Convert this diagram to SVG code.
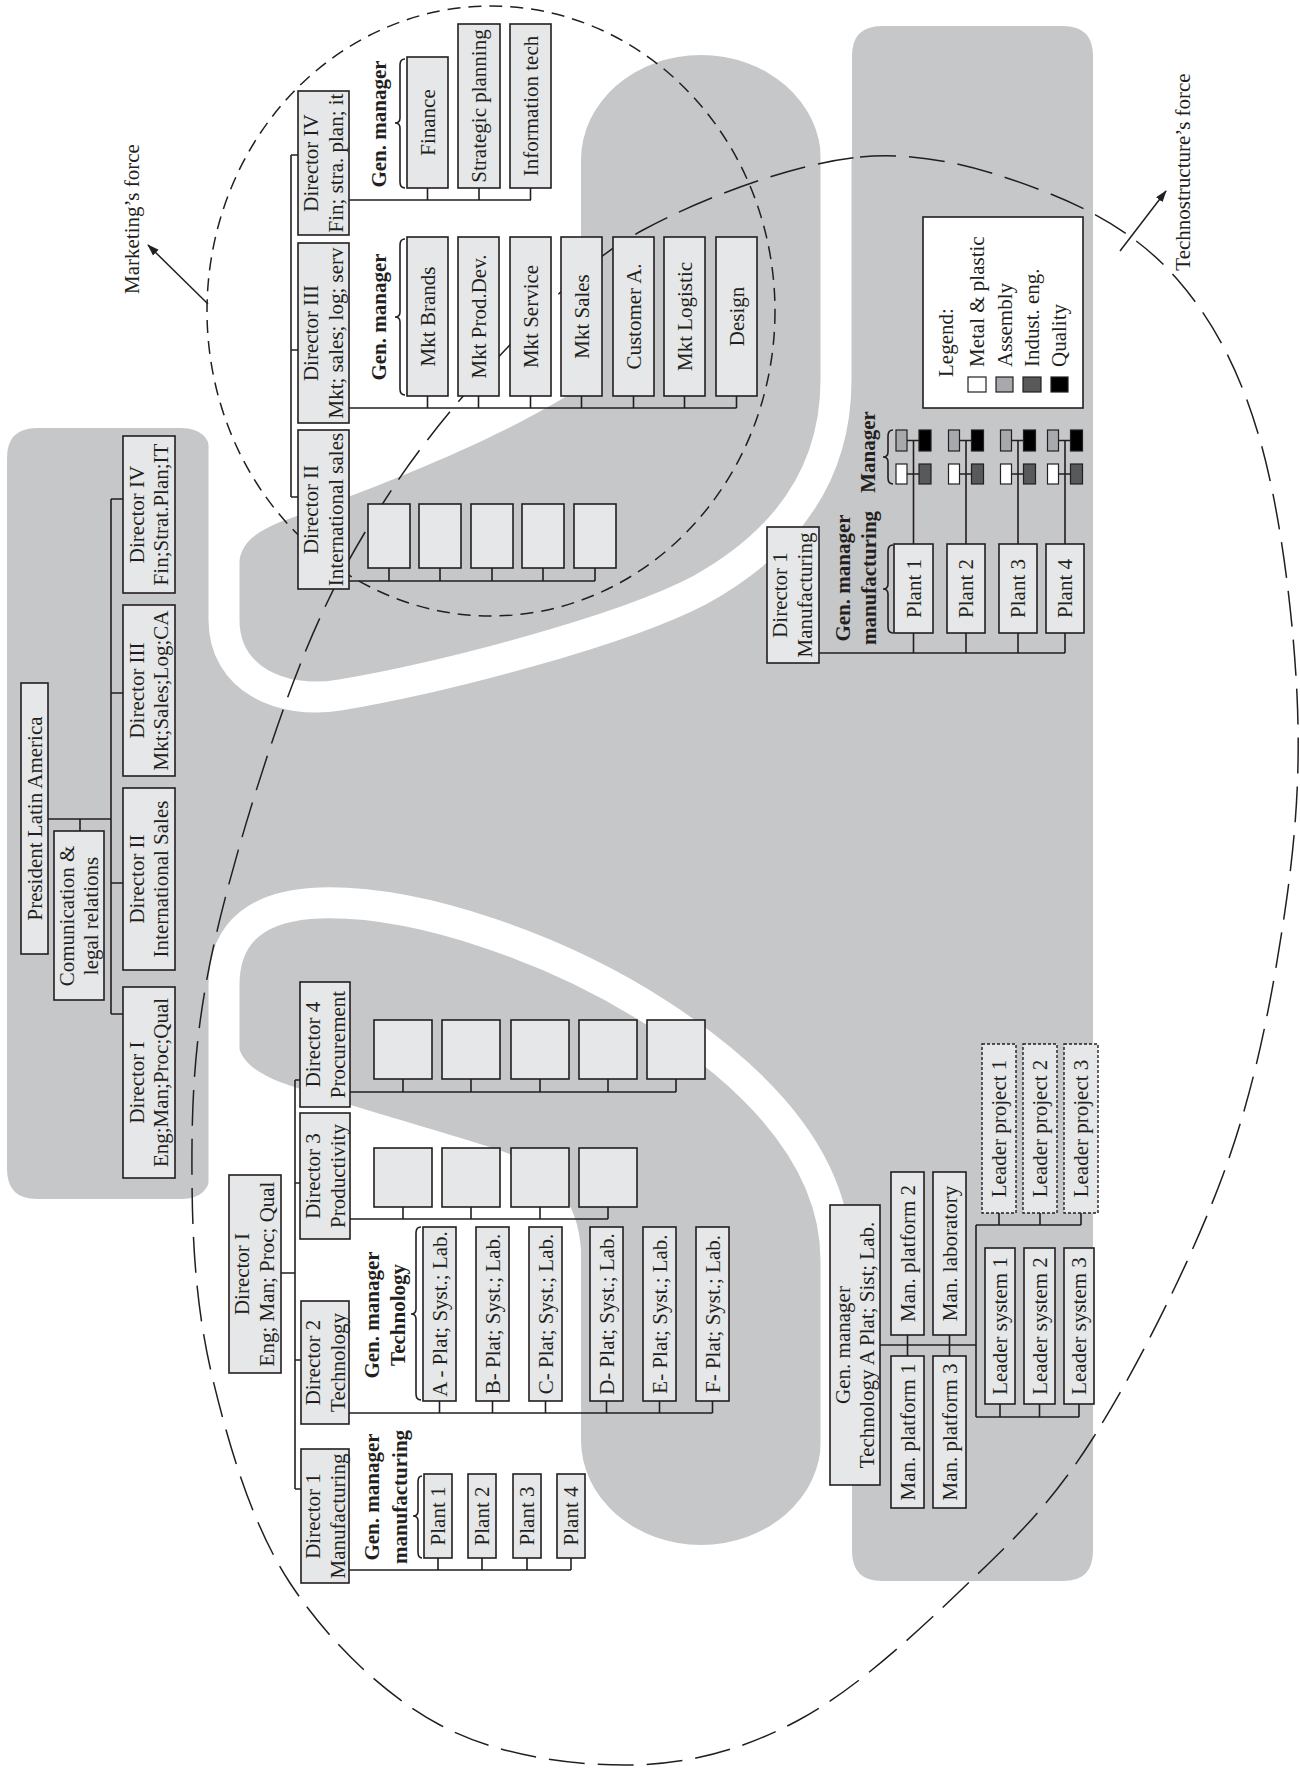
<svg xmlns="http://www.w3.org/2000/svg" width="1300" height="1771" viewBox="0 0 1300 1771">
<defs>
<style>
.bg{fill:#c6c7c9}
.band{fill:none;stroke:#fff;stroke-width:31}
.bx{fill:#e6e7e8;stroke:#231f20;stroke-width:1.6}
.dbx{fill:#e6e7e8;stroke:#231f20;stroke-width:1.4;stroke-dasharray:3 2}
.ln{fill:none;stroke:#231f20;stroke-width:1.6}
.t{font-family:"Liberation Serif","Times New Roman",serif;font-size:21px;fill:#231f20;text-anchor:middle;dominant-baseline:central}
.b{font-weight:bold}
.s{text-anchor:start}
.el1{fill:none;stroke:#231f20;stroke-width:1.5;stroke-dasharray:13 8}
.el2{fill:none;stroke:#231f20;stroke-width:1.5;stroke-dasharray:36 13}
.arr{fill:none;stroke:#231f20;stroke-width:1.5;marker-end:url(#ah)}
</style>
<marker id="ah" viewBox="0 0 12 10" refX="11" refY="5" markerWidth="12" markerHeight="10" markerUnits="userSpaceOnUse" orient="auto"><path d="M0,1 L12,5 L0,9 z" fill="#231f20"/></marker>
</defs>
<rect x="0" y="0" width="1300" height="1771" fill="#fff"/>
<g id="background">
<path class="bg" d="M7,458 Q7,428 37,428 L181,428 Q211,428 211,458 L224,560 L238,575 C238,545 250,535 280,522 C370,490 500,440 581,387 L581,160 A120,105 0 0 1 821,160 L852,160 L852,56 Q852,26 882,26 L1063,26 Q1093,26 1093,56 L1093,1551 Q1093,1581 1063,1581 L882,1581 Q852,1581 852,1551 L852,1440 L821,1440 A120,105 0 0 1 581,1440 L581,1250 C578,1195 545,1165 493,1148 C420,1125 330,1100 280,1082 C255,1072 237,1060 237,1035 L237,985 L211,985 L211,1169 Q211,1199 181,1199 L37,1199 Q7,1199 7,1169 Z"/>
<path class="band" d="M836,0 L836,380 C836,470 790,540 700,590 C620,632 440,678 340,695 C280,705 224,678 224,620 L224,430"/>
<path class="band" d="M224,1215 L224,985 C224,930 260,905 320,903 C420,900 560,950 660,1015 C760,1080 836,1160 836,1260 L836,1600"/>
</g>
<g id="forces">
<ellipse class="el1" cx="491" cy="311" rx="284" ry="305"/>
<path class="el2" d="M860,157 C926.7,150.5 990.2,170.7 1043,191 C1095.8,211.3 1140.8,237.5 1177,279 C1213.2,320.5 1240,370.7 1260,440 C1280,509.3 1293.2,614.3 1297,695 C1300.8,775.7 1295.3,844 1283,924 C1270.7,1004 1254.7,1089.3 1223,1175 C1191.3,1260.7 1136.8,1368.7 1093,1438 C1049.2,1507.3 1009.3,1543.8 960,1591 C910.7,1638.2 852,1692 797,1721 C742,1750 689.5,1764.3 630,1765 C570.5,1765.7 496.7,1755.3 440,1725 C383.3,1694.7 327.8,1640.5 290,1583 C252.2,1525.5 229.3,1447.2 213,1380 C196.7,1312.8 192.5,1249.5 192,1180 C191.5,1110.5 193.2,1045.8 210,963 C226.8,880.2 263.8,760.2 293,683 C322.2,605.8 349.3,555.8 385,500 C420.7,444.2 464,393 507,348 C550,303 584.2,261.8 643,230 C701.8,198.2 793.3,163.5 860,157 Z"/>
<path class="arr" d="M208,304 L148,245"/>
<path class="arr" d="M1120,251 L1166,191"/>
<text class="t" transform="translate(132,219) rotate(-90)">Marketing’s force</text>
<text class="t" transform="translate(1183,172) rotate(-90)">Technostructure’s force</text>
</g>
<g id="connectors" class="ln">
<path d="M48,819 H111 M80,819 V831 M111,499 V1014 M111,499 H123 M111,693 H123 M111,883 H123 M111,1014 H123"/>
<path d="M291,155 V497 M291,155 H298 M291,350 H298 M291,497 H298"/>
<path d="M349,200 H531 M427.5,188 V200 M479,188 V200 M530.5,188 V200"/>
<path d="M349,408 H736.5 M427.5,396 V408 M478.5,396 V408 M530.5,396 V408 M581.5,396 V408 M633.5,396 V408 M684.5,396 V408 M736.5,396 V408"/>
<path d="M349,581 H595 M389,568 V581 M440,568 V581 M492,568 V581 M543,568 V581 M595,568 V581"/>
<path d="M819,653 H1065 M913.5,633 V653 M966,633 V653 M1018,633 V653 M1065,633 V653"/>
<path d="M913.5,544 V440 M966,544 V440 M1018,544 V440 M1065,544 V440"/>
<path d="M907,440.5 H919 M907,474 H919 M959.5,440.5 H971.5 M959.5,474 H971.5 M1011.5,440.5 H1023.5 M1011.5,474 H1023.5 M1058.5,440.5 H1070.5 M1058.5,474 H1070.5"/>
<path d="M281,1273 H295 M295,1080 V1489 M295,1080 H300 M295,1183 H300 M295,1360 H301 M295,1489 H301"/>
<path d="M350,1092 H676 M403,1079 V1092 M471,1079 V1092 M540,1079 V1092 M608,1079 V1092 M676,1079 V1092"/>
<path d="M350,1219 H608 M403,1207 V1219 M471,1207 V1219 M540,1207 V1219 M608,1207 V1219"/>
<path d="M349,1413 H712.5 M439.5,1401 V1413 M492.5,1401 V1413 M545.5,1401 V1413 M606.5,1401 V1413 M659.5,1401 V1413 M712.5,1401 V1413"/>
<path d="M349,1570 H571 M438,1558 V1570 M482,1558 V1570 M527,1558 V1570 M571,1558 V1570"/>
<path d="M880,1345 H976 M907.5,1335 V1356 M949.5,1335 V1356 M976,1225 V1417 M976,1225 H1081 M999,1213 V1225 M1040,1213 V1225 M1081,1213 V1225 M976,1417 H1079 M1000,1404 V1417 M1039.5,1404 V1417 M1079,1404 V1417"/>
<path d="M405,59 Q400,59 400,65 L400,118 Q400,123 395,123 Q400,123 400,128 L400,182 Q400,188 405,188"/>
<path d="M405,239 Q400,239 400,245 L400,312 Q400,317 395,317 Q400,317 400,322 L400,389 Q400,395 405,395"/>
<path d="M893,545 Q888,545 888,551 L888,584 Q888,589 883,589 Q888,589 888,594 L888,627 Q888,633 893,633"/>
<path d="M893,430 Q888,430 888,436 L888,452 Q888,457 883,457 Q888,457 888,462 L888,478 Q888,484 893,484"/>
<path d="M421,1227 Q416,1227 416,1233 L416,1309 Q416,1314 411,1314 Q416,1314 416,1319 L416,1394 Q416,1400 421,1400"/>
<path d="M422,1476 Q418,1476 418,1482 L418,1511 Q418,1516 413,1516 Q418,1516 418,1521 L418,1552 Q418,1558 422,1558"/>
</g>
<g id="president"><rect class="bx" x="21" y="683" width="27" height="271"/><text class="t" transform="translate(34.5,818.5) rotate(-90)">President Latin America</text></g>
<g id="comunication"><rect class="bx" x="54" y="831" width="50" height="169"/><text class="t" transform="translate(67,916) rotate(-90)">Comunication &amp;</text><text class="t" transform="translate(91,916) rotate(-90)">legal relations</text></g>
<g id="dirIV-left"><rect class="bx" x="123" y="436" width="52" height="157"/><text class="t" transform="translate(137,514.5) rotate(-90)">Director IV</text><text class="t" transform="translate(161,514.5) rotate(-90)">Fin;Strat.Plan;IT</text></g>
<g id="dirIII-left"><rect class="bx" x="123" y="605" width="52" height="171"/><text class="t" transform="translate(137,690.5) rotate(-90)">Director III</text><text class="t" transform="translate(161,690.5) rotate(-90)">Mkt;Sales;Log;CA</text></g>
<g id="dirII-left"><rect class="bx" x="123" y="788" width="52" height="182"/><text class="t" transform="translate(137,879) rotate(-90)">Director II</text><text class="t" transform="translate(161,879) rotate(-90)">International Sales</text></g>
<g id="dirI-left"><rect class="bx" x="123" y="987" width="52" height="191"/><text class="t" transform="translate(137,1082.5) rotate(-90)">Director I</text><text class="t" transform="translate(161,1082.5) rotate(-90)">Eng;Man;Proc;Qual</text></g>
<g id="dirIV-top"><rect class="bx" x="298" y="91" width="51" height="144"/><text class="t" transform="translate(311,163) rotate(-90)">Director IV</text><text class="t" transform="translate(336,163) rotate(-90)">Fin; stra. plan; it</text></g>
<g id="dirIII-top"><rect class="bx" x="298" y="243" width="51" height="180"/><text class="t" transform="translate(311,333) rotate(-90)">Director III</text><text class="t" transform="translate(336,333) rotate(-90)">Mkt; sales; log; serv</text></g>
<g id="dirII-top"><rect class="bx" x="298" y="430" width="51" height="159"/><text class="t" transform="translate(311,509.5) rotate(-90)">Director II</text><text class="t" transform="translate(336,509.5) rotate(-90)">International sales</text></g>
<g id="gm-fin"><text class="t b" transform="translate(379,124) rotate(-90)">Gen. manager</text></g>
<g id="gm-mkt"><text class="t b" transform="translate(379,317) rotate(-90)">Gen. manager</text></g>
<g id="finance"><rect class="bx" x="407" y="57" width="41" height="131"/><text class="t" transform="translate(427.5,122.5) rotate(-90)">Finance</text></g>
<g id="strategic"><rect class="bx" x="458" y="24" width="42" height="164"/><text class="t" transform="translate(479,106) rotate(-90)">Strategic planning</text></g>
<g id="infotech"><rect class="bx" x="510" y="24" width="41" height="164"/><text class="t" transform="translate(530.5,106) rotate(-90)">Information tech</text></g>
<g id="mkt-brands"><rect class="bx" x="407" y="237" width="41" height="159"/><text class="t" transform="translate(427.5,316.5) rotate(-90)">Mkt Brands</text></g>
<g id="mkt-prod"><rect class="bx" x="458" y="237" width="41" height="159"/><text class="t" transform="translate(478.5,316.5) rotate(-90)">Mkt Prod.Dev.</text></g>
<g id="mkt-service"><rect class="bx" x="510" y="237" width="41" height="159"/><text class="t" transform="translate(530.5,316.5) rotate(-90)">Mkt Service</text></g>
<g id="mkt-sales"><rect class="bx" x="561" y="237" width="41" height="159"/><text class="t" transform="translate(581.5,316.5) rotate(-90)">Mkt Sales</text></g>
<g id="customer"><rect class="bx" x="613" y="237" width="41" height="159"/><text class="t" transform="translate(633.5,316.5) rotate(-90)">Customer A.</text></g>
<g id="mkt-logistic"><rect class="bx" x="664" y="237" width="41" height="159"/><text class="t" transform="translate(684.5,316.5) rotate(-90)">Mkt Logistic</text></g>
<g id="design"><rect class="bx" x="716" y="237" width="41" height="159"/><text class="t" transform="translate(736.5,316.5) rotate(-90)">Design</text></g>
<g id="sales-units"><rect class="bx" x="368" y="504" width="42" height="64"/><rect class="bx" x="419" y="504" width="42" height="64"/><rect class="bx" x="471" y="504" width="42" height="64"/><rect class="bx" x="522" y="504" width="42" height="64"/><rect class="bx" x="574" y="504" width="42" height="64"/></g>
<g id="dir1-right"><rect class="bx" x="767" y="527" width="52" height="136"/><text class="t" transform="translate(780,595) rotate(-90)">Director 1</text><text class="t" transform="translate(805,595) rotate(-90)">Manufacturing</text></g>
<g id="gm-manuf-right"><text class="t b" transform="translate(843,578) rotate(-90)">Gen. manager</text><text class="t b" transform="translate(869,578) rotate(-90)">manufacturing</text></g>
<g id="manager-label"><text class="t b" transform="translate(868,452) rotate(-90)">Manager</text></g>
<g id="plant1-r"><rect class="bx" x="894" y="544" width="39" height="89"/><text class="t" transform="translate(913.5,588.5) rotate(-90)">Plant 1</text></g>
<g id="plant2-r"><rect class="bx" x="947" y="544" width="38" height="89"/><text class="t" transform="translate(966,588.5) rotate(-90)">Plant 2</text></g>
<g id="plant3-r"><rect class="bx" x="999" y="544" width="38" height="89"/><text class="t" transform="translate(1018,588.5) rotate(-90)">Plant 3</text></g>
<g id="plant4-r"><rect class="bx" x="1046" y="544" width="38" height="89"/><text class="t" transform="translate(1065,588.5) rotate(-90)">Plant 4</text></g>
<g id="managers" stroke="#231f20" stroke-width="1.2">
<rect x="896" y="430" width="11" height="21" fill="#a7a9ac"/><rect x="919" y="430" width="12" height="21" fill="#000"/><rect x="896" y="464" width="11" height="20" fill="#fff"/><rect x="919" y="464" width="12" height="20" fill="#58595b"/>
<rect x="948.5" y="430" width="11" height="21" fill="#a7a9ac"/><rect x="971.5" y="430" width="12" height="21" fill="#000"/><rect x="948.5" y="464" width="11" height="20" fill="#fff"/><rect x="971.5" y="464" width="12" height="20" fill="#58595b"/>
<rect x="1000.5" y="430" width="11" height="21" fill="#a7a9ac"/><rect x="1023.5" y="430" width="12" height="21" fill="#000"/><rect x="1000.5" y="464" width="11" height="20" fill="#fff"/><rect x="1023.5" y="464" width="12" height="20" fill="#58595b"/>
<rect x="1047.5" y="430" width="11" height="21" fill="#a7a9ac"/><rect x="1070.5" y="430" width="12" height="21" fill="#000"/><rect x="1047.5" y="464" width="11" height="20" fill="#fff"/><rect x="1070.5" y="464" width="12" height="20" fill="#58595b"/>
</g>
<g id="legend">
<rect x="923" y="217" width="160" height="191" fill="#fff" stroke="#231f20" stroke-width="1.6"/>
<text class="t s" transform="translate(946,377) rotate(-90)">Legend:</text>
<rect x="968" y="377" width="18" height="15" fill="#fff" stroke="#231f20" stroke-width="1.2"/>
<rect x="996" y="377" width="17" height="15" fill="#a7a9ac" stroke="#231f20" stroke-width="1.2"/>
<rect x="1023" y="377" width="18" height="15" fill="#58595b" stroke="#231f20" stroke-width="1.2"/>
<rect x="1051" y="377" width="17" height="15" fill="#000" stroke="#231f20" stroke-width="1.2"/>
<text class="t s" transform="translate(977,367) rotate(-90)">Metal &amp; plastic</text>
<text class="t s" transform="translate(1005,367) rotate(-90)">Assembly</text>
<text class="t s" transform="translate(1032,367) rotate(-90)">Indust. eng.</text>
<text class="t s" transform="translate(1059,367) rotate(-90)">Quality</text>
</g>
<g id="dirI-bottom"><rect class="bx" x="229" y="1175" width="52" height="198"/><text class="t" transform="translate(242,1274) rotate(-90)">Director I</text><text class="t" transform="translate(267,1274) rotate(-90)">Eng; Man; Proc; Qual</text></g>
<g id="dir4"><rect class="bx" x="300" y="982" width="50" height="125"/><text class="t" transform="translate(313,1044.5) rotate(-90)">Director 4</text><text class="t" transform="translate(338,1044.5) rotate(-90)">Procurement</text></g>
<g id="dir3"><rect class="bx" x="300" y="1113" width="50" height="126"/><text class="t" transform="translate(313,1176) rotate(-90)">Director 3</text><text class="t" transform="translate(338,1176) rotate(-90)">Productivity</text></g>
<g id="dir2"><rect class="bx" x="301" y="1301" width="48" height="123"/><text class="t" transform="translate(313,1362.5) rotate(-90)">Director 2</text><text class="t" transform="translate(338,1362.5) rotate(-90)">Technology</text></g>
<g id="dir1"><rect class="bx" x="301" y="1449" width="48" height="134"/><text class="t" transform="translate(313,1516) rotate(-90)">Director 1</text><text class="t" transform="translate(338,1516) rotate(-90)">Manufacturing</text></g>
<g id="procurement-units"><rect class="bx" x="374" y="1020" width="58" height="59"/><rect class="bx" x="442" y="1020" width="58" height="59"/><rect class="bx" x="511" y="1020" width="58" height="59"/><rect class="bx" x="579" y="1020" width="58" height="59"/><rect class="bx" x="647" y="1020" width="58" height="59"/></g>
<g id="productivity-units"><rect class="bx" x="374" y="1148" width="58" height="59"/><rect class="bx" x="442" y="1148" width="58" height="59"/><rect class="bx" x="511" y="1148" width="58" height="59"/><rect class="bx" x="579" y="1148" width="58" height="59"/></g>
<g id="gm-tech"><text class="t b" transform="translate(372,1315) rotate(-90)">Gen. manager</text><text class="t b" transform="translate(398,1315) rotate(-90)">Technology</text></g>
<g id="plat-a"><rect class="bx" x="423" y="1227" width="33" height="174"/><text class="t" transform="translate(439.5,1314) rotate(-90)">A - Plat; Syst.; Lab.</text></g>
<g id="plat-b"><rect class="bx" x="476" y="1227" width="33" height="174"/><text class="t" transform="translate(492.5,1314) rotate(-90)">B- Plat; Syst.; Lab.</text></g>
<g id="plat-c"><rect class="bx" x="529" y="1227" width="33" height="174"/><text class="t" transform="translate(545.5,1314) rotate(-90)">C- Plat; Syst.; Lab.</text></g>
<g id="plat-d"><rect class="bx" x="590" y="1227" width="33" height="174"/><text class="t" transform="translate(606.5,1314) rotate(-90)">D- Plat; Syst.; Lab.</text></g>
<g id="plat-e"><rect class="bx" x="643" y="1227" width="33" height="174"/><text class="t" transform="translate(659.5,1314) rotate(-90)">E- Plat; Syst.; Lab.</text></g>
<g id="plat-f"><rect class="bx" x="696" y="1227" width="33" height="174"/><text class="t" transform="translate(712.5,1314) rotate(-90)">F- Plat; Syst.; Lab.</text></g>
<g id="gm-manuf-bottom"><text class="t b" transform="translate(372,1497) rotate(-90)">Gen. manager</text><text class="t b" transform="translate(400,1497) rotate(-90)">manufacturing</text></g>
<g id="plant1-b"><rect class="bx" x="424" y="1474" width="28" height="84"/><text class="t" transform="translate(438,1516) rotate(-90)">Plant 1</text></g>
<g id="plant2-b"><rect class="bx" x="468" y="1474" width="28" height="84"/><text class="t" transform="translate(482,1516) rotate(-90)">Plant 2</text></g>
<g id="plant3-b"><rect class="bx" x="513" y="1474" width="28" height="84"/><text class="t" transform="translate(527,1516) rotate(-90)">Plant 3</text></g>
<g id="plant4-b"><rect class="bx" x="557" y="1474" width="28" height="84"/><text class="t" transform="translate(571,1516) rotate(-90)">Plant 4</text></g>
<g id="gm-tech-a"><rect class="bx" x="830" y="1205" width="50" height="280"/><text class="t" transform="translate(843,1345) rotate(-90)">Gen. manager</text><text class="t" transform="translate(867,1345) rotate(-90)">Technology A Plat; Sist; Lab.</text></g>
<g id="man-plat2"><rect class="bx" x="891" y="1172" width="33" height="163"/><text class="t" transform="translate(907.5,1253.5) rotate(-90)">Man. platform 2</text></g>
<g id="man-lab"><rect class="bx" x="933" y="1172" width="33" height="163"/><text class="t" transform="translate(949.5,1253.5) rotate(-90)">Man. laboratory</text></g>
<g id="man-plat1"><rect class="bx" x="891" y="1356" width="33" height="152"/><text class="t" transform="translate(907.5,1432) rotate(-90)">Man. platform 1</text></g>
<g id="man-plat3"><rect class="bx" x="933" y="1356" width="33" height="152"/><text class="t" transform="translate(949.5,1432) rotate(-90)">Man. platform 3</text></g>
<g id="leader-sys1"><rect class="bx" x="985" y="1248" width="30" height="156"/><text class="t" transform="translate(1000,1326) rotate(-90)">Leader system 1</text></g>
<g id="leader-sys2"><rect class="bx" x="1024" y="1248" width="31" height="156"/><text class="t" transform="translate(1039.5,1326) rotate(-90)">Leader system 2</text></g>
<g id="leader-sys3"><rect class="bx" x="1064" y="1248" width="30" height="156"/><text class="t" transform="translate(1079,1326) rotate(-90)">Leader system 3</text></g>
<g id="leader-proj1"><rect class="dbx" x="982" y="1044" width="34" height="169"/><text class="t" transform="translate(999,1128.5) rotate(-90)">Leader project 1</text></g>
<g id="leader-proj2"><rect class="dbx" x="1023" y="1044" width="34" height="169"/><text class="t" transform="translate(1040,1128.5) rotate(-90)">Leader project 2</text></g>
<g id="leader-proj3"><rect class="dbx" x="1064" y="1044" width="34" height="169"/><text class="t" transform="translate(1081,1128.5) rotate(-90)">Leader project 3</text></g>
</svg>
